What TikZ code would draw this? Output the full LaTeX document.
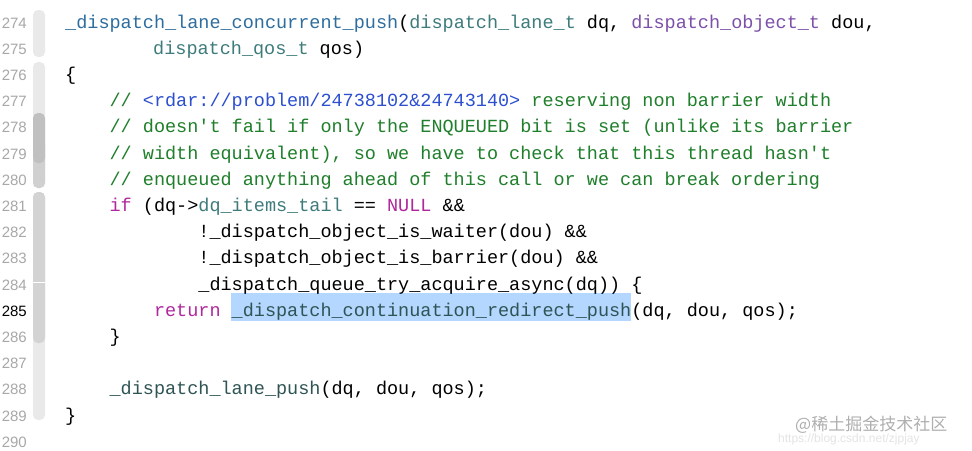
\documentclass[tikz,border=0pt]{standalone}
\usepackage{fontspec}
\setmonofont{Liberation Mono}
\setsansfont{Liberation Sans}
\newfontfamily\cjk{Noto Sans CJK SC}
\definecolor{fn}{HTML}{2E6D9E}
\definecolor{ty}{HTML}{3E7B7B}
\definecolor{pu}{HTML}{7D50AA}
\definecolor{cm}{HTML}{1F7F2B}
\definecolor{url}{HTML}{2C4FD0}
\definecolor{kw}{HTML}{B0289E}
\definecolor{dfn}{HTML}{2F5454}
\definecolor{ln}{HTML}{A8A8A8}
\definecolor{hl}{HTML}{B3D7FF}
\begin{document}
\begin{tikzpicture}[x=1pt,y=-1pt,
  code/.style={anchor=base west,inner sep=0pt,font=\ttfamily\fontsize{18.5}{20}\selectfont,text=black},
  lnum/.style={anchor=base east,inner sep=0pt,font=\sffamily\fontsize{15}{16}\selectfont,text=ln},
  gut/.style={rounded corners=5pt}]
\useasboundingbox (0,0) rectangle (972,450);
\fill[white] (0,0) rectangle (972,450);
% gutter
\fill[gut,fill={rgb,255:red,233;green,233;blue,233}] (33,10) rectangle (45,57);
\fill[gut,fill={rgb,255:red,233;green,233;blue,233}] (33,62) rectangle (45,188);
\fill[gut,fill={rgb,255:red,208;green,208;blue,208}] (33,140) rectangle (45,188);
\fill[gut,fill={rgb,255:red,192;green,192;blue,192}] (33,113) rectangle (45,163);
\fill[gut,fill={rgb,255:red,233;green,233;blue,233}] (33,192) rectangle (45,420);
\fill[gut,fill={rgb,255:red,211;green,211;blue,211}] (33,192) rectangle (45,343);
\draw[white,line width=0.6pt] (33,282) -- (45,282);
% highlight
\fill[hl] (231,293) rectangle (631,321);
% line numbers
\foreach \n [count=\i from 0] in {274,...,290}{
  \ifnum\n=285
    \node[lnum,text=black] (n\n) at (27,{28+\i*26.2}) {\n};
  \else
    \node[lnum] (n\n) at (27,{28+\i*26.2}) {\n};
  \fi}
% code
\node[code] (c274) at (65,28) {\textcolor{fn}{\_dispatch\_lane\_concurrent\_push}(\textcolor{ty}{dispatch\_lane\_t} dq, \textcolor{pu}{dispatch\_object\_t} dou,};
\node[code] (c275) at (153,54.2) {\textcolor{ty}{dispatch\_qos\_t} qos)};
\node[code] (c276) at (65,80.4) {\{};
\node[code] (c277) at (109.4,106.6) {\textcolor{cm}{//}\ \textcolor{url}{<rdar://problem/24738102\&24743140>}\ \textcolor{cm}{reserving non barrier width}};
\node[code] (c278) at (109.4,132.8) {\textcolor{cm}{// doesn't fail if only the ENQUEUED bit is set (unlike its barrier}};
\node[code] (c279) at (109.4,159) {\textcolor{cm}{// width equivalent), so we have to check that this thread hasn't}};
\node[code] (c280) at (109.4,185.2) {\textcolor{cm}{// enqueued anything ahead of this call or we can break ordering}};
\node[code] (c281) at (109.4,211.4) {\textcolor{kw}{if} (dq->\textcolor{ty}{dq\_items\_tail} == \textcolor{kw}{NULL} \&\&};
\node[code] (c282) at (198.2,237.6) {!\_dispatch\_object\_is\_waiter(dou) \&\&};
\node[code] (c283) at (198.2,263.8) {!\_dispatch\_object\_is\_barrier(dou) \&\&};
\node[code] (c284) at (198.2,290) {\_dispatch\_queue\_try\_acquire\_async(dq)) \{};
\node[code] (c285) at (153.8,316.2) {\textcolor{kw}{return} \textcolor{dfn}{\_dispatch\_continuation\_redirect\_push}(dq, dou, qos);};
\node[code] (c286) at (109.4,342.4) {\}};
\node[code] (c288) at (109.4,394.8) {\textcolor{dfn}{\_dispatch\_lane\_push}(dq, dou, qos);};
\node[code] (c289) at (65,421) {\}};
% watermark
\node[anchor=base west,inner sep=0pt,font=\sffamily\fontsize{12}{12}\selectfont,text={rgb,255:red,228;green,228;blue,228}] (wm2) at (778,442) {https://blog.csdn.net/zjpjay};
\node[anchor=base west,inner sep=0pt,font=\cjk\fontsize{17}{17}\selectfont,text={rgb,255:red,175;green,175;blue,175}] (wm) at (795,430) {@稀土掘金技术社区};
\end{tikzpicture}
\end{document}
